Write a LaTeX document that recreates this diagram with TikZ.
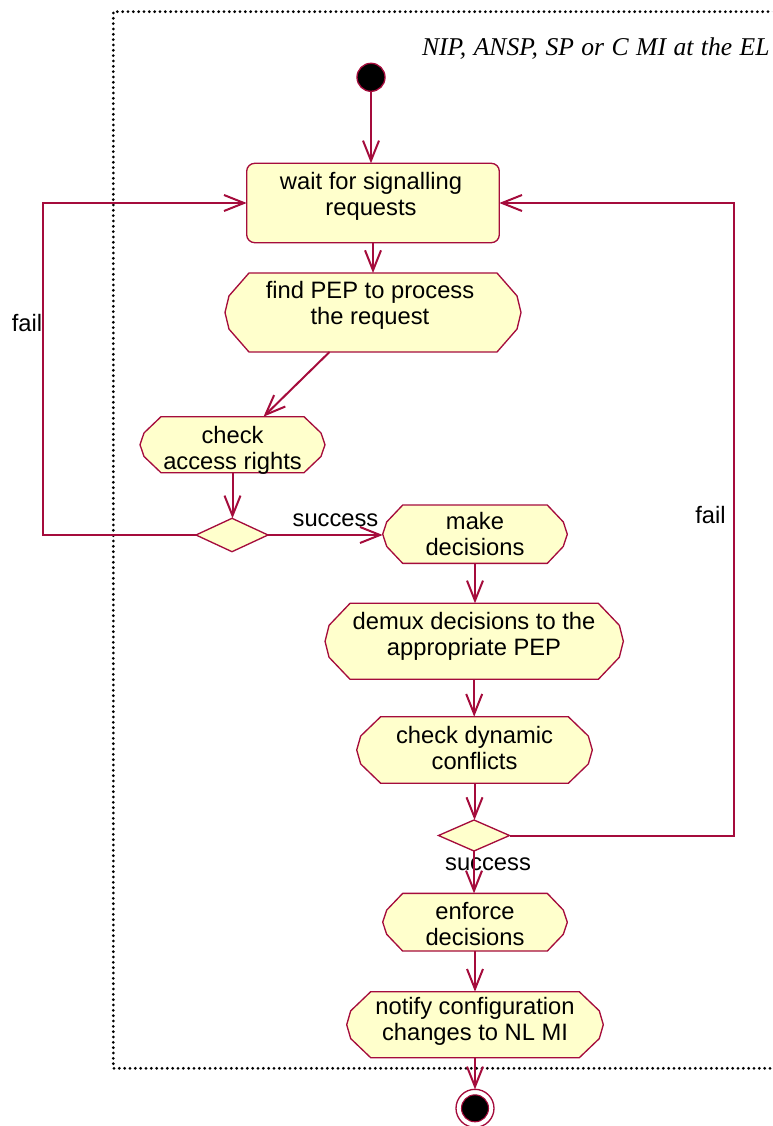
\documentclass[tikz,border=0pt]{standalone}
\usepackage{fontspec}
\setmainfont{Liberation Sans}
\newfontfamily\capfont{Liberation Serif}
\usetikzlibrary{arrows.meta,calc,shapes.geometric}
\pgfdeclarelayer{background}
\pgfsetlayers{background,main}
\definecolor{rose}{RGB}{165,12,60}
\definecolor{actfill}{RGB}{255,255,204}
\def\u{0.75pt}
\begin{document}
\begin{tikzpicture}[x=0.75pt,y=-0.75pt,
  every node/.style={inner sep=0pt, outer sep=0pt},
  actbox/.style={shape=rectangle},
  acttext/.style={align=center, font=\fontsize{17.8}{19.7}\selectfont},
  actshape/.style={fill=actfill, draw=rose, line width=1pt, line join=round},
  waitbox/.style={shape=rectangle, rounded corners=6pt, fill=actfill, draw=rose, line width=1pt},
  branch/.style={diamond, fill=actfill, draw=rose, line width=1pt},
  flow/.style={draw=rose, line width=1.5pt, -{Straight Barb[length=15pt,width=12pt]}},
  lbl/.style={font=\fontsize{17.8}{19.7}\selectfont},
  frame/.style={draw=black, line width=2.3pt, line cap=round, dash pattern=on 0pt off 4pt}
]
\useasboundingbox (0,0) rectangle (772,1126);
\clip (0,0) rectangle (772,1126);

% dotted swimlane frame
\draw[frame] (800,11.7) -- (113.3,11.7) -- (113.3,1068.3) -- (800,1068.3);
\node[anchor=base west, font=\capfont\itshape\fontsize{19.2}{22}\selectfont] (lane) at (422,56)
  {\spaceskip=5.6pt NIP, ANSP, SP or C MI at the EL};

% initial and final states
\node[circle, fill=black, draw=rose, line width=1pt, minimum size=28*\u] (start) at (371,77.3) {};
\node[circle, fill=white, draw=rose, line width=1pt, minimum size=38*\u] (end) at (475,1108.3) {};
\node[circle, fill=black, draw=rose, line width=0.8pt, minimum size=27*\u] (end-in) at (end.center) {};

% activity states
\node[waitbox, minimum width=252.6*\u, minimum height=79.4*\u] (wait) at (373,203) {};
\node[actbox, minimum width=296*\u, minimum height=79*\u] (find) at (373,312.5) {};
\node[actbox, minimum width=185*\u, minimum height=56*\u] (check) at (232.5,444.7) {};
\node[actbox, minimum width=184.6*\u, minimum height=58.3*\u] (make) at (475,534.2) {};
\node[actbox, minimum width=298.3*\u, minimum height=76*\u] (demux) at (474.2,641.3) {};
\node[actbox, minimum width=235.6*\u, minimum height=66.6*\u] (dyn) at (474.5,750) {};
\node[actbox, minimum width=184.6*\u, minimum height=57.7*\u] (enf) at (475,922.2) {};
\node[actbox, minimum width=256.6*\u, minimum height=66*\u] (notify) at (475,1024.7) {};

\begin{pgfonlayer}{background}
\foreach \n/\c in {find/24,check/21,make/20,demux/25,dyn/24,enf/20,notify/24}{
  \path[actshape]
    ($(\n.north west)+(\c,0)$) -- ($(\n.north east)+(-\c,0)$)
    -- ($(\n.north east)!0.58!(\n.east)+(-4,0)$) -- (\n.east)
    -- ($(\n.south east)!0.58!(\n.east)+(-4,0)$) -- ($(\n.south east)+(-\c,0)$)
    -- ($(\n.south west)+(\c,0)$) -- ($(\n.south west)!0.58!(\n.west)+(4,0)$)
    -- (\n.west) -- ($(\n.north west)!0.58!(\n.west)+(4,0)$) -- cycle;
}
\end{pgfonlayer}

% activity texts
\node[acttext] (wait-t) at (371,197.2) {\strut wait for signalling\\requests\strut};
\node[acttext] (find-t) at (370,306.2) {\strut find PEP to process\\the request\strut};
\node[acttext] (check-t) at (232.5,451.2) {\strut check\\access rights\strut};
\node[acttext] (make-t) at (475,537.2) {\strut make\\decisions\strut};
\node[acttext] (demux-t) at (474,637.2) {\strut demux decisions to the\\appropriate PEP\strut};
\node[acttext] (dyn-t) at (474.5,751.2) {\strut check dynamic\\conflicts\strut};
\node[acttext] (enf-t) at (475,927.2) {\strut enforce\\decisions\strut};
\node[acttext] (notify-t) at (475,1022.2) {\strut notify configuration\\changes to NL MI\strut};

% decisions
\node[branch, minimum width=72*\u, minimum height=33.4*\u] (d1) at (232,535) {};
\node[branch, minimum width=71*\u, minimum height=31*\u] (d2) at (474,835.5) {};

% guard labels
\node[lbl, anchor=base] (fail-l) at (27,331.7) {fail};
\node[lbl, anchor=base] (fail-r) at (710.5,523) {fail};
\node[lbl, anchor=base] (succ-1) at (335.5,526) {success};
\node[lbl, anchor=base] (succ-2) at (488,870) {success};

\coordinate (lcol) at (43,0);
\coordinate (rcol) at (734,0);

% transitions
\draw[flow] (start) -- (start |- wait.north);
\draw[flow] (wait.south) -- (wait.south |- find.north);
\draw[flow] ($(find.south)+(-43.5,0)$) -- ($(check.north)+(31,0)$);
\draw[flow] (check.south) -- (check.south |- d1.north);
\draw[flow] (d1.east) -- (d1.east -| make.west);
\draw[flow] (d1.west) -- (d1.west -| lcol) |- (wait.west);
\draw[flow] (make.south) -- (make.south |- demux.north);
\draw[flow] (demux.south) -- (demux.south |- dyn.north);
\draw[flow] (dyn.south) -- (dyn.south |- d2.north);
\draw[flow] (d2.east) -- (d2.east -| rcol) |- (wait.east);
\draw[flow] (d2.south) -- (d2.south |- enf.north);
\draw[flow] (enf.south) -- (enf.south |- notify.north);
\draw[flow] (notify.south) -- (end);
\end{tikzpicture}
\end{document}
